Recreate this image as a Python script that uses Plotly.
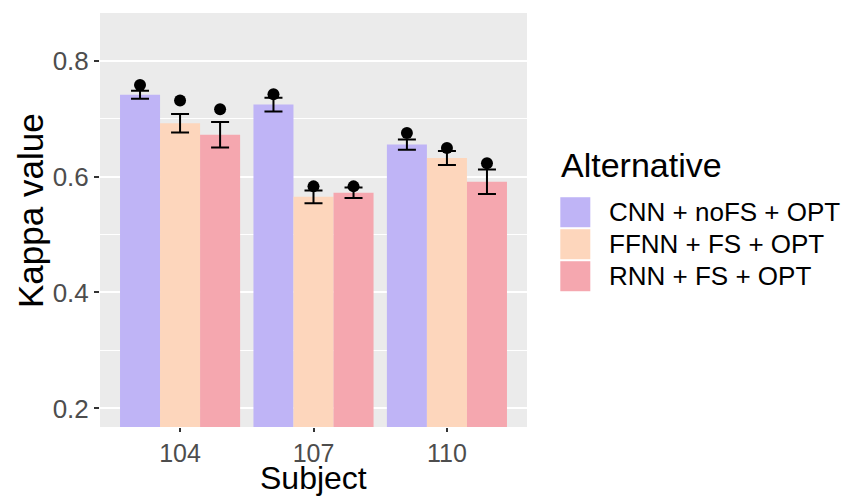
import plotly.graph_objects as go

# Kappa values per subject for each model alternative
subjects = ["104", "107", "110"]
alternatives = ["CNN + noFS + OPT", "FFNN + FS + OPT", "RNN + FS + OPT"]
mean_kappa = [
    [0.741, 0.724, 0.655],   # CNN + noFS + OPT
    [0.692, 0.565, 0.632],   # FFNN + FS + OPT
    [0.672, 0.572, 0.591],   # RNN + FS + OPT
]
err_kappa = [
    [0.007, 0.012, 0.009],
    [0.016, 0.011, 0.012],
    [0.022, 0.009, 0.021],
]
best_kappa = [
    [0.758, 0.742, 0.675],
    [0.731, 0.583, 0.649],
    [0.716, 0.583, 0.623],
]
colors = ["#BFB4F6", "#FDD6BC", "#F5A7AF"]

dodge = 0.3
offsets = [-dodge, 0.0, dodge]
base_x = [1, 2, 3]
FONT = "Liberation Sans, Arial"
PW, PH = 427, 414   # panel size in px

fig = go.Figure()
for k, name in enumerate(alternatives):
    xs = [b + offsets[k] for b in base_x]
    fig.add_trace(go.Bar(
        x=xs, y=mean_kappa[k], width=dodge, name=name,
        marker=dict(color=colors[k], line=dict(width=0)),
        error_y=dict(type="data", array=err_kappa[k], color="black",
                     thickness=2, width=9),
        showlegend=False,
    ))
for k, name in enumerate(alternatives):
    xs = [b + offsets[k] for b in base_x]
    fig.add_trace(go.Scatter(
        x=xs, y=best_kappa[k], mode="markers",
        marker=dict(color="black", size=12),
        showlegend=False, hoverinfo="skip",
    ))

# Axis titles
annotations = [
    dict(x=0.5, y=-71 / PH, xref="paper", yref="paper",
         xanchor="center", yanchor="bottom", text="Subject", showarrow=False,
         font=dict(size=32, color="black", family=FONT)),
    dict(x=-70 / PW, y=(427 - 211) / PH, xref="paper", yref="paper",
         xanchor="center", yanchor="middle", text="Kappa value", textangle=-90,
         showarrow=False, font=dict(size=35, color="black", family=FONT)),
]

# Legend drawn as swatches + labels to the right of the panel
shapes = []
annotations.append(dict(
    x=1.075, y=0.632, xref="paper", yref="paper", xanchor="left", yanchor="middle",
    text="Alternative", showarrow=False,
    font=dict(size=34, color="black", family=FONT),
))
sw_h = 30 / PH
for k, name in enumerate(alternatives):
    top = 0.555 - k * (32 / PH)
    shapes.append(dict(
        type="rect", xref="paper", yref="paper",
        x0=1.078, x1=1.078 + 30 / PW, y0=top - sw_h, y1=top,
        fillcolor=colors[k], line=dict(width=0),
    ))
    annotations.append(dict(
        x=1.078 + 47 / PW, y=top - sw_h / 2, xref="paper", yref="paper",
        xanchor="left", yanchor="middle", text=name, showarrow=False,
        font=dict(size=26, color="black", family=FONT),
    ))

fig.update_layout(
    width=843, height=498,
    margin=dict(l=100, r=316, t=13, b=71),
    paper_bgcolor="white", plot_bgcolor="#EBEBEB",
    barmode="overlay",
    font=dict(family=FONT, color="#4D4D4D"),
    shapes=shapes, annotations=annotations,
    xaxis=dict(
        range=[0.4, 3.6], tickvals=base_x, ticktext=subjects,
        showgrid=False, zeroline=False, automargin=False,
        ticks="outside", ticklen=4, tickwidth=1.5, tickcolor="#333333",
        tickfont=dict(size=25, color="#4D4D4D"),
    ),
    yaxis=dict(
        range=[0.168, 0.882], tickvals=[0.2, 0.4, 0.6, 0.8],
        ticktext=["0.2", "0.4", "0.6", "0.8"],
        showgrid=True, gridcolor="white", gridwidth=1.6, zeroline=False,
        automargin=False,
        ticks="outside", ticklen=5, tickwidth=1.5, tickcolor="#333333",
        tickfont=dict(size=26, color="#4D4D4D"),
        minor=dict(tickvals=[0.3, 0.5, 0.7], showgrid=True,
                   gridcolor="white", gridwidth=0.8, ticks=""),
    ),
)

fig.write_html("out.html")
